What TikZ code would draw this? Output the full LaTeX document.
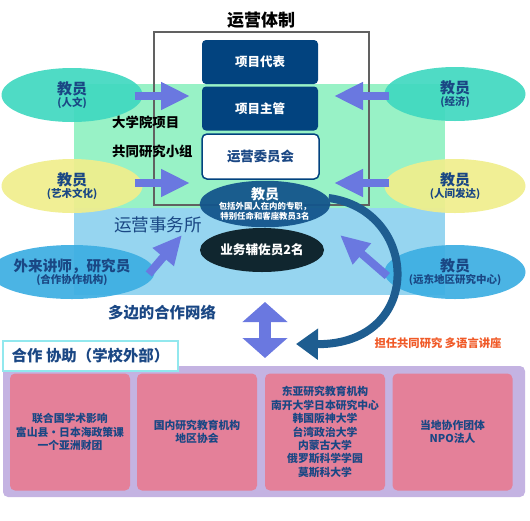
\documentclass[tikz,border=0pt]{standalone}
\usepackage{fontspec}
\setmainfont{Noto Sans CJK SC}
\usetikzlibrary{arrows.meta,positioning,shapes.geometric}
\definecolor{navy}{HTML}{02437F}
\definecolor{deepblue}{HTML}{1A4784}
\definecolor{mint}{HTML}{98F2C6}
\definecolor{sky}{HTML}{96D5F0}
\definecolor{teal}{HTML}{40D8C0}
\definecolor{lemon}{HTML}{F0EE8C}
\definecolor{azure}{HTML}{3CAEE2}
\definecolor{periwinkle}{HTML}{6A78E0}
\definecolor{steel}{HTML}{1E5D90}
\definecolor{staffbg}{HTML}{14558C}
\definecolor{ink}{HTML}{10262F}
\definecolor{lilac}{HTML}{C4B3E2}
\definecolor{rose}{HTML}{E48099}
\definecolor{flame}{HTML}{F05A28}
\definecolor{cyanrule}{HTML}{92E8EE}
\newcommand{\bigtxt}{\fontsize{15}{16}\selectfont}
\newcommand{\subtxt}{\fontsize{10.5}{12}\selectfont}

\begin{document}
\begin{tikzpicture}[x=1pt,y=-1pt,
  every node/.style={font=\bfseries, inner sep=0pt},
  headbox/.style={rectangle, rounded corners=4pt, fill=navy, text=white, minimum width=116pt, minimum height=44pt, font=\bfseries\fontsize{12.5}{14}\selectfont},
  member/.style={ellipse, minimum width=141pt, minimum height=54pt, align=center, text=deepblue, fill opacity=0.92, text opacity=1},
  fat/.style={-{Triangle[length=29pt,width=26pt]}, line width=8pt, draw=periwinkle},
  partner/.style={rectangle, rounded corners=5pt, fill=rose, minimum width=120pt, minimum height=117pt, align=center, text=deepblue, font=\bfseries\fontsize{10.8}{13.4}\selectfont}
]
\useasboundingbox (0,0) rectangle (530,520);

% bands
\node[fill=mint, minimum width=371pt, minimum height=124pt] (univ) at (259.5,146) {};
\node[fill=sky, minimum width=371pt, minimum height=87pt] (office) at (259.5,251.5) {};
\node[fill=lilac, rounded corners=5pt, minimum width=522pt, minimum height=131pt] (outer) at (264,431.5) {};

% management frame
\node[font=\bfseries\fontsize{17}{18}\selectfont] (title) at (261,20) {运营体制};
\node[draw=black!62, line width=1.2pt, minimum width=215pt, minimum height=173pt] (frame) at (261.5,118.5) {};
\node[headbox] (rep) at (260,62) {项目代表};
\node[headbox] (chief) at (260,108.5) {项目主管};
\node[rectangle, rounded corners=5pt, draw=navy, line width=1.5pt, fill=white, minimum width=117pt, minimum height=45pt, text=deepblue, font=\bfseries\fontsize{13.4}{15}\selectfont] (board) at (260.5,156.5) {运营委员会};
\node[anchor=west, font=\bfseries\fontsize{13.4}{15}\selectfont] (grad) at (112,122) {大学院项目};
\node[anchor=west, font=\bfseries\fontsize{13.4}{15}\selectfont] (group) at (112,151) {共同研究小组};

% office
\node[ellipse, fill=staffbg, fill opacity=0.95, text opacity=1, text=white, minimum width=124pt, minimum height=44pt, align=center, font=\bfseries\fontsize{8.4}{10}\selectfont] (faculty) at (265,204) {{\fontsize{14}{15}\selectfont 教员}\\包括外国人在内的专职，\\特别任命和客座教员3名};
\node[ellipse, fill=ink, text=white, minimum width=124pt, minimum height=44pt, font=\bfseries\fontsize{12.6}{14}\selectfont] (staff) at (262,250) {业务辅佐员2名};
\node[text=deepblue, font=\fontsize{17.6}{19}\selectfont] (officelbl) at (158,225) {运营事务所};

% members
\node[member, fill=teal] (hum) at (72,95) {{\bigtxt 教员}\\{\subtxt (人文)}};
\node[member, fill=lemon] (art) at (72,186) {{\bigtxt 教员}\\{\subtxt (艺术文化)}};
\node[member, fill=azure] (guest) at (72,272) {{\fontsize{14.6}{16}\selectfont 外来讲师，研究员}\\{\subtxt (合作协作机构)}};
\node[member, fill=teal] (eco) at (455,94) {{\bigtxt 教员}\\{\subtxt (经济)}};
\node[member, fill=lemon] (dev) at (455,186) {{\bigtxt 教员}\\{\subtxt (人间发达)}};
\node[member, fill=azure] (far) at (455,272) {{\bigtxt 教员}\\{\subtxt (远东地区研究中心)}};

\coordinate (inHum) at (190,96);
\coordinate (inArt) at (190,183);
\coordinate (inEco) at (334,96);
\coordinate (inDev) at (334,183);
\coordinate (inGuest) at (182,235);
\coordinate (inFar) at (340,235);
\draw[fat] ([xshift=-8pt,yshift=-1pt]hum.east) -- (inHum);
\draw[fat] ([xshift=-8pt,yshift=3pt]art.east) -- (inArt);
\draw[fat] ([xshift=5pt,yshift=-2pt]eco.west) -- (inEco);
\draw[fat] ([xshift=5pt,yshift=3pt]dev.west) -- (inDev);
\draw[fat] ([xshift=-6pt,yshift=-2pt]guest.east) -- (inGuest);
\draw[fat] ([xshift=3pt,yshift=-4pt]far.west) -- (inFar);

% network
\node[text=deepblue, font=\bfseries\fontsize{15.4}{17}\selectfont] (network) at (162,313) {多边的合作网络};
\coordinate (netTop) at (265,302);
\coordinate (netBot) at (265,358);
\draw[{Triangle[length=20pt,width=44pt]}-{Triangle[length=20pt,width=44pt]}, line width=12pt, draw=periwinkle] (netTop) -- (netBot);
\coordinate (loopEnd) at (296,344);
\draw[-{Triangle[length=22pt,width=30pt]}, line width=8pt, draw=steel] ([xshift=-2pt,yshift=6pt]faculty.east) .. controls (420,210) and (425,345) .. (loopEnd);
\node[text=flame, font=\bfseries\fontsize{11.3}{13}\selectfont] (teach) at (438,343) {担任共同研究 多语言讲座};

% partners
\node[draw=cyanrule, line width=1.5pt, fill=white, minimum width=175pt, minimum height=30pt, text=deepblue, font=\bfseries\fontsize{15.4}{17}\selectfont] (coop) at (90.5,356) {合作 协助（学校外部）};
\node[partner] (intl) at (70,432) {联合国学术影响\\富山县・日本海政策课\\一个亚洲财团};
\node[partner] (domestic) at (197,432) {国内研究教育机构\\地区协会};
\node[partner] (abroad) at (325,432) {东亚研究教育机构\\南开大学日本研究中心\\韩国阪神大学\\台湾政治大学\\内蒙古大学\\俄罗斯科学学园\\莫斯科大学};
\node[partner] (local) at (452.5,432) {当地协作团体\\NPO法人};
\end{tikzpicture}
\end{document}
